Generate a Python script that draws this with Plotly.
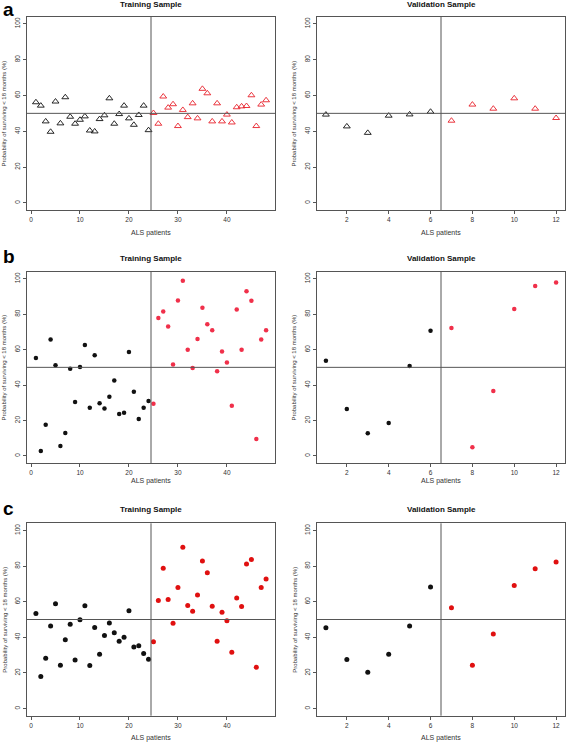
import plotly.graph_objects as go

W, H = 567, 744

# ---------------- data ----------------
train_patients = list(range(1, 49))
valid_patients = list(range(1, 13))

a_train = [56.2, 54.3, 45.5, 39.7, 56.6, 44.4, 59.0, 48.1, 44.2, 46.4, 48.3, 40.4,
           39.9, 46.8, 48.9, 58.4, 44.2, 49.6, 54.3, 47.2, 43.6, 49.1, 54.3, 40.6,
           50.2, 44.2, 59.4, 53.2, 55.1, 42.9, 51.9, 47.9, 55.6, 47.2, 63.7, 61.2,
           45.5, 55.6, 45.5, 49.3, 44.9, 53.4, 53.9, 54.1, 60.1, 42.9, 54.9, 57.3]
a_valid = [49.3, 42.7, 39.1, 48.7, 49.4, 50.9, 45.9, 54.9, 52.6, 58.4, 52.6, 47.4]

b_train = [55.3, 2.8, 17.6, 65.7, 51.2, 5.6, 13.0, 49.2, 30.4, 50.2, 62.6, 27.2,
           56.8, 29.8, 26.8, 33.4, 42.6, 23.6, 24.4, 58.7, 36.2, 20.8, 27.2, 31.0,
           29.5, 77.9, 81.6, 73.0, 51.6, 87.8, 98.9, 60.0, 49.7, 66.0, 83.7, 74.3,
           70.9, 47.8, 58.9, 52.7, 28.3, 82.6, 60.0, 92.9, 87.6, 9.6, 65.7, 70.9]
b_valid = [53.7, 26.5, 12.8, 18.6, 50.8, 70.7, 72.2, 4.9, 36.6, 82.9, 95.9, 97.9]

c_train = [53.4, 18.0, 28.3, 46.3, 58.8, 24.3, 38.6, 47.4, 27.3, 49.8, 57.7, 24.2,
           45.5, 30.5, 41.0, 48.1, 42.5, 37.8, 40.1, 54.9, 34.6, 35.2, 30.9, 27.7,
           37.5, 60.7, 78.7, 61.2, 47.9, 68.0, 90.6, 57.9, 54.7, 63.7, 82.8, 76.2,
           57.5, 37.8, 54.1, 49.3, 31.6, 62.0, 57.3, 81.1, 83.7, 23.2, 68.0, 72.7]
c_valid = [45.3, 27.5, 20.4, 30.5, 46.3, 68.2, 56.6, 24.3, 41.8, 69.1, 78.5, 82.3]

train_split = 24   # first 24 black, rest red
valid_split = 6
threshold = 50

x_ticks_train = [0, 10, 20, 30, 40]
x_ticks_valid = [2, 4, 6, 8, 10, 12]
y_ticks = [0, 20, 40, 60, 80, 100]

panel_letters = ["a", "b", "c"]
col_titles = ["Training Sample", "Validation Sample"]
x_title = "ALS patients"
y_title = "Probability of surviving < 18 months (%)"

# ---------------- layout geometry ----------------
col_px = [(26.7, 275.3), (316.7, 565.3)]
row_px = [(16.7, 210.0), (271.7, 463.0), (523.3, 715.7)]
title_py = [4.5, 258.5, 510.0]
letter_py = [9.5, 256.0, 508.5]
xtitle_py = [233.0, 481.0, 738.0]

def px_x(p):
    return p / W

def px_y(p):
    return 1 - p / H

FONT = "Liberation Sans, Arial, sans-serif"
AX = "#555555"
BLACK = "#111111"

rows = [
    (a_train, a_valid, "triangle-up-open", 6, "#e8202a"),
    (b_train, b_valid, "circle", 4.5, "#f0304a"),
    (c_train, c_valid, "circle", 5, "#e01010"),
]

fig = go.Figure()
annotations = []
shapes = []

idx = 0
for r, (tr, va, sym, msz, red) in enumerate(rows):
    for c in range(2):
        idx += 1
        xa = "x" if idx == 1 else f"x{idx}"
        ya = "y" if idx == 1 else f"y{idx}"
        if c == 0:
            xs, ys, split, xrange_, xticks, vline = train_patients, tr, train_split, [-0.88, 49.88], x_ticks_train, 24.5
        else:
            xs, ys, split, xrange_, xticks, vline = valid_patients, va, valid_split, [0.56, 12.44], x_ticks_valid, 6.5
        colors = [BLACK if i < split else red for i in range(len(xs))]
        if sym == "triangle-up-open":
            marker = dict(symbol=sym, size=msz, color=colors, line=dict(color=colors, width=0.9))
        else:
            marker = dict(symbol=sym, size=msz, color=colors, line=dict(width=0))
        fig.add_trace(go.Scatter(x=xs, y=ys, mode="markers", marker=marker,
                                 xaxis=xa, yaxis=ya, showlegend=False, hoverinfo="x+y"))

        x0, x1 = col_px[c]
        y0, y1 = row_px[r]
        axkw = dict(showgrid=False, zeroline=False, showline=True, mirror=True,
                    linecolor=AX, linewidth=1, ticks="outside", ticklen=3,
                    tickcolor=AX, tickwidth=1,
                    tickfont=dict(family=FONT, size=6.5, color="#333333"))
        fig.update_layout(**{
            ("xaxis" if idx == 1 else f"xaxis{idx}"): dict(
                domain=[px_x(x0), px_x(x1)], anchor=ya, range=xrange_,
                tickvals=xticks, **axkw),
            ("yaxis" if idx == 1 else f"yaxis{idx}"): dict(
                domain=[px_y(y1), px_y(y0)], anchor=xa, range=[-4, 104],
                tickvals=y_ticks, tickangle=-90, **axkw),
        })
        # reference lines
        shapes.append(dict(type="line", xref=f"{xa} domain", yref=ya, x0=0, x1=1,
                           y0=threshold, y1=threshold, line=dict(color=AX, width=1)))
        shapes.append(dict(type="line", xref=xa, yref=f"{ya} domain", x0=vline, x1=vline,
                           y0=0, y1=1, line=dict(color=AX, width=1)))
        # titles
        cx = (x0 + x1) / 2
        annotations.append(dict(text=f"<b>{col_titles[c]}</b>", x=px_x(cx), y=px_y(title_py[r]),
                                xref="paper", yref="paper", showarrow=False,
                                xanchor="center", yanchor="middle",
                                font=dict(family=FONT, size=8, color="#111111")))
        annotations.append(dict(text=x_title, x=px_x(cx), y=px_y(xtitle_py[r]),
                                xref="paper", yref="paper", showarrow=False,
                                xanchor="center", yanchor="middle",
                                font=dict(family=FONT, size=7, color="#333333")))
        annotations.append(dict(text=y_title, x=px_x(x0 - 22.5), y=px_y((y0 + y1) / 2),
                                xref="paper", yref="paper", showarrow=False, textangle=-90,
                                xanchor="center", yanchor="middle",
                                font=dict(family=FONT, size=6, color="#333333")))
    annotations.append(dict(text=f"<b>{panel_letters[r]}</b>", x=px_x(1), y=px_y(letter_py[r]),
                            xref="paper", yref="paper", showarrow=False,
                            xanchor="left", yanchor="middle",
                            font=dict(family=FONT, size=19, color="#000000")))

fig.update_layout(width=W, height=H, margin=dict(l=0, r=0, t=0, b=0),
                  paper_bgcolor="white", plot_bgcolor="white",
                  annotations=annotations, shapes=shapes)

fig.write_html("out.html", config={"displayModeBar": False},
               post_script="document.body.style.margin='0';document.body.style.overflow='hidden';")
